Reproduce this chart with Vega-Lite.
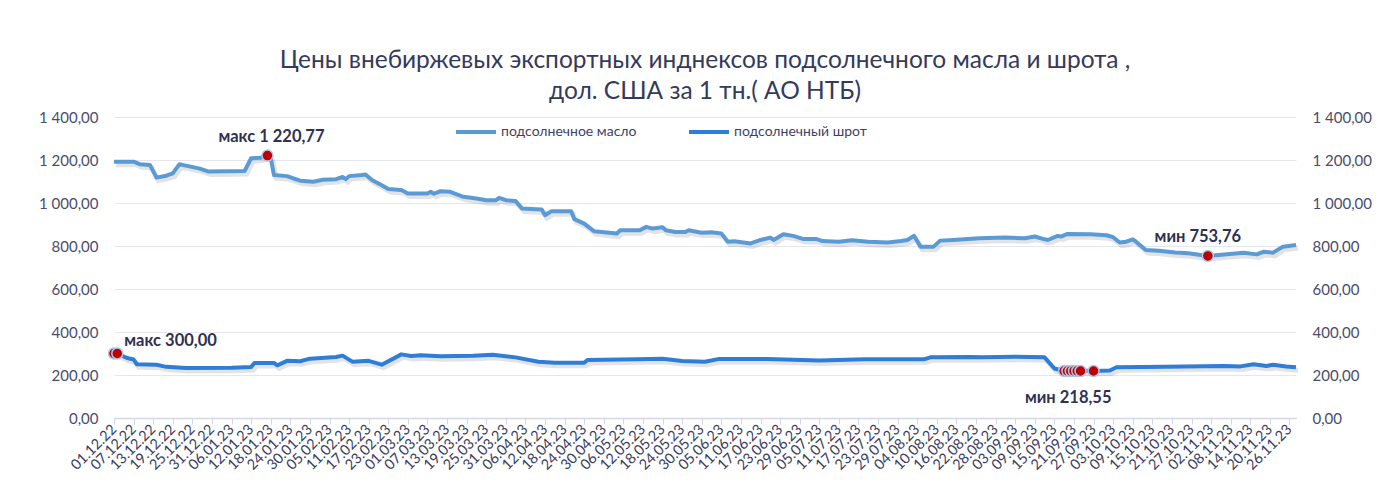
{
  "$schema": "https://vega.github.io/schema/vega-lite/v6.json",
  "width": 1182,
  "height": 301,
  "autosize": "none",
  "padding": {"left": 114, "top": 117, "right": 104, "bottom": 82},
  "background": "white",
  "config": {
    "locale": {"number": {"decimal": ",", "thousands": " ", "grouping": [3], "currency": ["", ""]}},
    "font": "Lato",
    "view": {"stroke": null},
    "axisX": {"labelOverlap": false, "labelBound": false}
  },
  "title": {
    "text": ["Цены внебиржевых экспортных инднексов подсолнечного масла и шрота ,", "дол. США за 1 тн.( АО НТБ)"],
    "fontSize": 24.5,
    "font": "Lato",
    "fontWeight": "normal",
    "color": "#343a5c",
    "anchor": "middle",
    "offset": 6,
    "lineHeight": 31
  },
  "datasets": {
    "prices": [
      {"date": "2022-12-01", "series": "подсолнечное масло", "value": 1192},
      {"date": "2022-12-07", "series": "подсолнечное масло", "value": 1192},
      {"date": "2022-12-09", "series": "подсолнечное масло", "value": 1180},
      {"date": "2022-12-12", "series": "подсолнечное масло", "value": 1177},
      {"date": "2022-12-14", "series": "подсолнечное масло", "value": 1118},
      {"date": "2022-12-17", "series": "подсолнечное масло", "value": 1127},
      {"date": "2022-12-19", "series": "подсолнечное масло", "value": 1138},
      {"date": "2022-12-21", "series": "подсолнечное масло", "value": 1180},
      {"date": "2022-12-23", "series": "подсолнечное масло", "value": 1174},
      {"date": "2022-12-27", "series": "подсолнечное масло", "value": 1161},
      {"date": "2022-12-30", "series": "подсолнечное масло", "value": 1146},
      {"date": "2023-01-10", "series": "подсолнечное масло", "value": 1149},
      {"date": "2023-01-12", "series": "подсолнечное масло", "value": 1208},
      {"date": "2023-01-15", "series": "подсолнечное масло", "value": 1211},
      {"date": "2023-01-17", "series": "подсолнечное масло", "value": 1220.77},
      {"date": "2023-01-18", "series": "подсолнечное масло", "value": 1210},
      {"date": "2023-01-19", "series": "подсолнечное масло", "value": 1130},
      {"date": "2023-01-23", "series": "подсолнечное масло", "value": 1125},
      {"date": "2023-01-25", "series": "подсолнечное масло", "value": 1114},
      {"date": "2023-01-27", "series": "подсолнечное масло", "value": 1104},
      {"date": "2023-01-31", "series": "подсолнечное масло", "value": 1099},
      {"date": "2023-02-03", "series": "подсолнечное масло", "value": 1108},
      {"date": "2023-02-07", "series": "подсолнечное масло", "value": 1111},
      {"date": "2023-02-09", "series": "подсолнечное масло", "value": 1121},
      {"date": "2023-02-10", "series": "подсолнечное масло", "value": 1111},
      {"date": "2023-02-11", "series": "подсолнечное масло", "value": 1125},
      {"date": "2023-02-15", "series": "подсолнечное масло", "value": 1130},
      {"date": "2023-02-16", "series": "подсолнечное масло", "value": 1133},
      {"date": "2023-02-18", "series": "подсолнечное масло", "value": 1107},
      {"date": "2023-02-21", "series": "подсолнечное масло", "value": 1083},
      {"date": "2023-02-23", "series": "подсолнечное масло", "value": 1065},
      {"date": "2023-02-27", "series": "подсолнечное масло", "value": 1060},
      {"date": "2023-03-01", "series": "подсолнечное масло", "value": 1044},
      {"date": "2023-03-07", "series": "подсолнечное масло", "value": 1044},
      {"date": "2023-03-08", "series": "подсолнечное масло", "value": 1052},
      {"date": "2023-03-09", "series": "подсолнечное масло", "value": 1043},
      {"date": "2023-03-11", "series": "подсолнечное масло", "value": 1055},
      {"date": "2023-03-14", "series": "подсолнечное масло", "value": 1052},
      {"date": "2023-03-16", "series": "подсолнечное масло", "value": 1040},
      {"date": "2023-03-18", "series": "подсолнечное масло", "value": 1029},
      {"date": "2023-03-22", "series": "подсолнечное масло", "value": 1021},
      {"date": "2023-03-25", "series": "подсолнечное масло", "value": 1013},
      {"date": "2023-03-28", "series": "подсолнечное масло", "value": 1013},
      {"date": "2023-03-29", "series": "подсолнечное масло", "value": 1024},
      {"date": "2023-03-31", "series": "подсолнечное масло", "value": 1013},
      {"date": "2023-04-03", "series": "подсолнечное масло", "value": 1009},
      {"date": "2023-04-05", "series": "подсолнечное масло", "value": 974},
      {"date": "2023-04-11", "series": "подсолнечное масло", "value": 970},
      {"date": "2023-04-12", "series": "подсолнечное масло", "value": 943},
      {"date": "2023-04-14", "series": "подсолнечное масло", "value": 962},
      {"date": "2023-04-20", "series": "подсолнечное масло", "value": 962},
      {"date": "2023-04-21", "series": "подсолнечное масло", "value": 925},
      {"date": "2023-04-24", "series": "подсолнечное масло", "value": 904},
      {"date": "2023-04-27", "series": "подсолнечное масло", "value": 869},
      {"date": "2023-05-04", "series": "подсолнечное масло", "value": 858},
      {"date": "2023-05-05", "series": "подсолнечное масло", "value": 873},
      {"date": "2023-05-11", "series": "подсолнечное масло", "value": 873},
      {"date": "2023-05-13", "series": "подсолнечное масло", "value": 889},
      {"date": "2023-05-15", "series": "подсолнечное масло", "value": 881},
      {"date": "2023-05-18", "series": "подсолнечное масло", "value": 887},
      {"date": "2023-05-19", "series": "подсолнечное масло", "value": 873},
      {"date": "2023-05-22", "series": "подсолнечное масло", "value": 865},
      {"date": "2023-05-25", "series": "подсолнечное масло", "value": 865},
      {"date": "2023-05-26", "series": "подсолнечное масло", "value": 873},
      {"date": "2023-05-30", "series": "подсолнечное масло", "value": 862},
      {"date": "2023-06-02", "series": "подсолнечное масло", "value": 864},
      {"date": "2023-06-05", "series": "подсолнечное масло", "value": 858},
      {"date": "2023-06-07", "series": "подсолнечное масло", "value": 820},
      {"date": "2023-06-09", "series": "подсолнечное масло", "value": 822},
      {"date": "2023-06-14", "series": "подсолнечное масло", "value": 812},
      {"date": "2023-06-17", "series": "подсолнечное масло", "value": 828},
      {"date": "2023-06-20", "series": "подсолнечное масло", "value": 839},
      {"date": "2023-06-21", "series": "подсолнечное масло", "value": 828},
      {"date": "2023-06-24", "series": "подсолнечное масло", "value": 855},
      {"date": "2023-06-27", "series": "подсолнечное масло", "value": 847},
      {"date": "2023-06-30", "series": "подсолнечное масло", "value": 833},
      {"date": "2023-07-04", "series": "подсолнечное масло", "value": 833},
      {"date": "2023-07-06", "series": "подсолнечное масло", "value": 823},
      {"date": "2023-07-11", "series": "подсолнечное масло", "value": 820},
      {"date": "2023-07-15", "series": "подсолнечное масло", "value": 827},
      {"date": "2023-07-20", "series": "подсолнечное масло", "value": 820},
      {"date": "2023-07-26", "series": "подсолнечное масло", "value": 816},
      {"date": "2023-07-30", "series": "подсолнечное масло", "value": 823},
      {"date": "2023-08-01", "series": "подсолнечное масло", "value": 828},
      {"date": "2023-08-03", "series": "подсолнечное масло", "value": 847},
      {"date": "2023-08-05", "series": "подсолнечное масло", "value": 797},
      {"date": "2023-08-09", "series": "подсолнечное масло", "value": 797},
      {"date": "2023-08-11", "series": "подсолнечное масло", "value": 825},
      {"date": "2023-08-15", "series": "подсолнечное масло", "value": 828},
      {"date": "2023-08-23", "series": "подсолнечное масло", "value": 836},
      {"date": "2023-08-31", "series": "подсолнечное масло", "value": 839},
      {"date": "2023-09-06", "series": "подсолнечное масло", "value": 836},
      {"date": "2023-09-09", "series": "подсолнечное масло", "value": 844},
      {"date": "2023-09-12", "series": "подсолнечное масло", "value": 831},
      {"date": "2023-09-13", "series": "подсолнечное масло", "value": 828},
      {"date": "2023-09-16", "series": "подсолнечное масло", "value": 847},
      {"date": "2023-09-17", "series": "подсолнечное масло", "value": 844},
      {"date": "2023-09-19", "series": "подсолнечное масло", "value": 856},
      {"date": "2023-09-26", "series": "подсолнечное масло", "value": 855},
      {"date": "2023-10-01", "series": "подсолнечное масло", "value": 850},
      {"date": "2023-10-03", "series": "подсолнечное масло", "value": 841},
      {"date": "2023-10-05", "series": "подсолнечное масло", "value": 816},
      {"date": "2023-10-07", "series": "подсолнечное масло", "value": 820},
      {"date": "2023-10-09", "series": "подсолнечное масло", "value": 831},
      {"date": "2023-10-10", "series": "подсолнечное масло", "value": 820},
      {"date": "2023-10-13", "series": "подсолнечное масло", "value": 781},
      {"date": "2023-10-17", "series": "подсолнечное масло", "value": 778},
      {"date": "2023-10-22", "series": "подсолнечное масло", "value": 770},
      {"date": "2023-10-26", "series": "подсолнечное масло", "value": 766},
      {"date": "2023-11-01", "series": "подсолнечное масло", "value": 753.76},
      {"date": "2023-11-06", "series": "подсолнечное масло", "value": 761},
      {"date": "2023-11-12", "series": "подсолнечное масло", "value": 769},
      {"date": "2023-11-16", "series": "подсолнечное масло", "value": 761},
      {"date": "2023-11-18", "series": "подсолнечное масло", "value": 773},
      {"date": "2023-11-21", "series": "подсолнечное масло", "value": 769},
      {"date": "2023-11-24", "series": "подсолнечное масло", "value": 797},
      {"date": "2023-11-28", "series": "подсолнечное масло", "value": 805},
      {"date": "2022-12-01", "series": "подсолнечный шрот", "value": 300},
      {"date": "2022-12-02", "series": "подсолнечный шрот", "value": 300},
      {"date": "2022-12-05", "series": "подсолнечный шрот", "value": 279},
      {"date": "2022-12-07", "series": "подсолнечный шрот", "value": 272},
      {"date": "2022-12-08", "series": "подсолнечный шрот", "value": 250},
      {"date": "2022-12-14", "series": "подсолнечный шрот", "value": 248},
      {"date": "2022-12-17", "series": "подсолнечный шрот", "value": 238},
      {"date": "2022-12-23", "series": "подсолнечный шрот", "value": 232},
      {"date": "2023-01-06", "series": "подсолнечный шрот", "value": 234},
      {"date": "2023-01-12", "series": "подсолнечный шрот", "value": 237},
      {"date": "2023-01-13", "series": "подсолнечный шрот", "value": 256},
      {"date": "2023-01-19", "series": "подсолнечный шрот", "value": 256},
      {"date": "2023-01-20", "series": "подсолнечный шрот", "value": 245},
      {"date": "2023-01-23", "series": "подсолнечный шрот", "value": 266},
      {"date": "2023-01-27", "series": "подсолнечный шрот", "value": 264},
      {"date": "2023-01-30", "series": "подсолнечный шрот", "value": 276},
      {"date": "2023-02-07", "series": "подсолнечный шрот", "value": 284},
      {"date": "2023-02-09", "series": "подсолнечный шрот", "value": 290},
      {"date": "2023-02-12", "series": "подсолнечный шрот", "value": 262},
      {"date": "2023-02-17", "series": "подсолнечный шрот", "value": 266},
      {"date": "2023-02-21", "series": "подсолнечный шрот", "value": 248},
      {"date": "2023-02-27", "series": "подсолнечный шрот", "value": 296},
      {"date": "2023-03-02", "series": "подсолнечный шрот", "value": 288},
      {"date": "2023-03-05", "series": "подсолнечный шрот", "value": 292},
      {"date": "2023-03-11", "series": "подсолнечный шрот", "value": 287},
      {"date": "2023-03-21", "series": "подсолнечный шрот", "value": 289},
      {"date": "2023-03-27", "series": "подсолнечный шрот", "value": 294},
      {"date": "2023-04-03", "series": "подсолнечный шрот", "value": 282},
      {"date": "2023-04-10", "series": "подсолнечный шрот", "value": 262},
      {"date": "2023-04-15", "series": "подсолнечный шрот", "value": 257},
      {"date": "2023-04-24", "series": "подсолнечный шрот", "value": 257},
      {"date": "2023-04-25", "series": "подсолнечный шрот", "value": 270},
      {"date": "2023-05-10", "series": "подсолнечный шрот", "value": 273},
      {"date": "2023-05-18", "series": "подсолнечный шрот", "value": 276},
      {"date": "2023-05-24", "series": "подсолнечный шрот", "value": 265},
      {"date": "2023-05-31", "series": "подсолнечный шрот", "value": 262},
      {"date": "2023-06-04", "series": "подсолнечный шрот", "value": 274},
      {"date": "2023-06-19", "series": "подсолнечный шрот", "value": 274},
      {"date": "2023-07-05", "series": "подсолнечный шрот", "value": 268},
      {"date": "2023-07-19", "series": "подсолнечный шрот", "value": 273},
      {"date": "2023-08-06", "series": "подсолнечный шрот", "value": 273},
      {"date": "2023-08-08", "series": "подсолнечный шрот", "value": 282},
      {"date": "2023-08-20", "series": "подсолнечный шрот", "value": 284},
      {"date": "2023-08-24", "series": "подсолнечный шрот", "value": 282},
      {"date": "2023-09-03", "series": "подсолнечный шрот", "value": 285},
      {"date": "2023-09-12", "series": "подсолнечный шрот", "value": 282},
      {"date": "2023-09-15", "series": "подсолнечный шрот", "value": 230},
      {"date": "2023-09-18", "series": "подсолнечный шрот", "value": 218.55},
      {"date": "2023-09-19", "series": "подсолнечный шрот", "value": 218.55},
      {"date": "2023-09-20", "series": "подсолнечный шрот", "value": 218.55},
      {"date": "2023-09-21", "series": "подсолнечный шрот", "value": 218.55},
      {"date": "2023-09-22", "series": "подсолнечный шрот", "value": 218.55},
      {"date": "2023-09-23", "series": "подсолнечный шрот", "value": 218.55},
      {"date": "2023-09-24", "series": "подсолнечный шрот", "value": 219.5},
      {"date": "2023-09-26", "series": "подсолнечный шрот", "value": 219.5},
      {"date": "2023-09-27", "series": "подсолнечный шрот", "value": 218.55},
      {"date": "2023-10-02", "series": "подсолнечный шрот", "value": 221},
      {"date": "2023-10-04", "series": "подсолнечный шрот", "value": 236},
      {"date": "2023-10-19", "series": "подсолнечный шрот", "value": 238},
      {"date": "2023-11-06", "series": "подсолнечный шрот", "value": 242},
      {"date": "2023-11-11", "series": "подсолнечный шрот", "value": 240},
      {"date": "2023-11-15", "series": "подсолнечный шрот", "value": 250},
      {"date": "2023-11-19", "series": "подсолнечный шрот", "value": 242},
      {"date": "2023-11-21", "series": "подсолнечный шрот", "value": 248},
      {"date": "2023-11-25", "series": "подсолнечный шрот", "value": 240},
      {"date": "2023-11-28", "series": "подсолнечный шрот", "value": 236}
    ],
    "notes": [
      {"date": "2023-01-17", "value": 1220.77, "label": "макс 1 220,77"},
      {"date": "2023-11-01", "value": 753.76, "label": "мин 753,76"},
      {"date": "2022-12-02", "value": 300, "label": "макс 300,00"},
      {"date": "2023-09-18", "value": 218.55, "label": "мин 218,55"}
    ]
  },
  "encoding": {
    "x": {
      "field": "date", "type": "temporal",
      "scale": {"type": "utc", "domain": [{"year": 2022, "month": 12, "date": 1, "utc": true}, {"year": 2023, "month": 11, "date": 28, "utc": true}]},
      "axis": {
        "title": null,
        "format": "%d.%m.%y",
        "values": [
          {"year": 2022, "month": 12, "date": 1, "utc": true}, {"year": 2022, "month": 12, "date": 7, "utc": true}, {"year": 2022, "month": 12, "date": 13, "utc": true}, {"year": 2022, "month": 12, "date": 19, "utc": true}, {"year": 2022, "month": 12, "date": 25, "utc": true}, {"year": 2022, "month": 12, "date": 31, "utc": true},
          {"year": 2023, "month": 1, "date": 6, "utc": true}, {"year": 2023, "month": 1, "date": 12, "utc": true}, {"year": 2023, "month": 1, "date": 18, "utc": true}, {"year": 2023, "month": 1, "date": 24, "utc": true}, {"year": 2023, "month": 1, "date": 30, "utc": true},
          {"year": 2023, "month": 2, "date": 5, "utc": true}, {"year": 2023, "month": 2, "date": 11, "utc": true}, {"year": 2023, "month": 2, "date": 17, "utc": true}, {"year": 2023, "month": 2, "date": 23, "utc": true},
          {"year": 2023, "month": 3, "date": 1, "utc": true}, {"year": 2023, "month": 3, "date": 7, "utc": true}, {"year": 2023, "month": 3, "date": 13, "utc": true}, {"year": 2023, "month": 3, "date": 19, "utc": true}, {"year": 2023, "month": 3, "date": 25, "utc": true}, {"year": 2023, "month": 3, "date": 31, "utc": true},
          {"year": 2023, "month": 4, "date": 6, "utc": true}, {"year": 2023, "month": 4, "date": 12, "utc": true}, {"year": 2023, "month": 4, "date": 18, "utc": true}, {"year": 2023, "month": 4, "date": 24, "utc": true}, {"year": 2023, "month": 4, "date": 30, "utc": true},
          {"year": 2023, "month": 5, "date": 6, "utc": true}, {"year": 2023, "month": 5, "date": 12, "utc": true}, {"year": 2023, "month": 5, "date": 18, "utc": true}, {"year": 2023, "month": 5, "date": 24, "utc": true}, {"year": 2023, "month": 5, "date": 30, "utc": true},
          {"year": 2023, "month": 6, "date": 5, "utc": true}, {"year": 2023, "month": 6, "date": 11, "utc": true}, {"year": 2023, "month": 6, "date": 17, "utc": true}, {"year": 2023, "month": 6, "date": 23, "utc": true}, {"year": 2023, "month": 6, "date": 29, "utc": true},
          {"year": 2023, "month": 7, "date": 5, "utc": true}, {"year": 2023, "month": 7, "date": 11, "utc": true}, {"year": 2023, "month": 7, "date": 17, "utc": true}, {"year": 2023, "month": 7, "date": 23, "utc": true}, {"year": 2023, "month": 7, "date": 29, "utc": true},
          {"year": 2023, "month": 8, "date": 4, "utc": true}, {"year": 2023, "month": 8, "date": 10, "utc": true}, {"year": 2023, "month": 8, "date": 16, "utc": true}, {"year": 2023, "month": 8, "date": 22, "utc": true}, {"year": 2023, "month": 8, "date": 28, "utc": true},
          {"year": 2023, "month": 9, "date": 3, "utc": true}, {"year": 2023, "month": 9, "date": 9, "utc": true}, {"year": 2023, "month": 9, "date": 15, "utc": true}, {"year": 2023, "month": 9, "date": 21, "utc": true}, {"year": 2023, "month": 9, "date": 27, "utc": true},
          {"year": 2023, "month": 10, "date": 3, "utc": true}, {"year": 2023, "month": 10, "date": 9, "utc": true}, {"year": 2023, "month": 10, "date": 15, "utc": true}, {"year": 2023, "month": 10, "date": 21, "utc": true}, {"year": 2023, "month": 10, "date": 27, "utc": true},
          {"year": 2023, "month": 11, "date": 2, "utc": true}, {"year": 2023, "month": 11, "date": 8, "utc": true}, {"year": 2023, "month": 11, "date": 14, "utc": true}, {"year": 2023, "month": 11, "date": 20, "utc": true}, {"year": 2023, "month": 11, "date": 26, "utc": true}
        ],
        "labelAngle": -45,
        "labelAlign": "right",
        "labelBaseline": "middle",
        "labelFontSize": 14.5,
        "labelColor": "#3a3c60",
        "labelOverlap": false,
        "labelSeparation": -60,
        "labelPadding": 3,
        "labelFlush": false,
        "labelBound": false,
        "tickColor": "#d5d5ea",
        "tickSize": 6,
        "domainColor": "#d5d5ea",
        "domainWidth": 1.5,
        "grid": false
      }
    }
  },
  "layer": [
    {
      "data": {"name": "prices"},
      "mark": {"type": "line", "strokeWidth": 5, "color": "#1f2a44", "opacity": 0.13, "xOffset": 2, "yOffset": 3},
      "encoding": {
        "y": {"field": "value", "type": "quantitative", "scale": {"domain": [0, 1400], "nice": false}, "axis": null},
        "detail": {"field": "series"}
      }
    },
    {
      "data": {"name": "prices"},
      "mark": {"type": "line", "strokeWidth": 4, "strokeJoin": "round"},
      "encoding": {
        "y": {
          "field": "value", "type": "quantitative",
          "scale": {"domain": [0, 1400], "nice": false},
          "axis": {
            "title": null, "orient": "left", "values": [0, 200, 400, 600, 800, 1000, 1200, 1400],
            "format": ",.2f", "grid": true, "gridColor": "#e6e6f3", "ticks": false, "domain": false,
            "labelPadding": 16, "labelFontSize": 15, "labelColor": "#4a4c6a"
          }
        },
        "color": {
          "field": "series", "type": "nominal",
          "scale": {"domain": ["подсолнечное масло", "подсолнечный шрот"], "range": ["#5B9BD5", "#2E7DD6"]},
          "legend": {
            "title": null, "orient": "none", "legendX": 340, "legendY": -7, "direction": "horizontal",
            "symbolType": "stroke", "symbolSize": 1600, "symbolStrokeWidth": 4,
            "labelFontSize": 14, "labelColor": "#3f4163", "labelOffset": 3, "columnPadding": 44
          }
        }
      }
    },
    {
      "data": {"name": "prices"},
      "mark": {"type": "line", "opacity": 0},
      "encoding": {
        "y": {
          "field": "value", "type": "quantitative",
          "scale": {"domain": [0, 1400], "nice": false},
          "axis": {
            "title": null, "orient": "right", "values": [0, 200, 400, 600, 800, 1000, 1200, 1400],
            "format": ",.2f", "grid": false, "ticks": false, "domain": false,
            "labelPadding": 16, "labelFontSize": 15, "labelColor": "#4a4c6a"
          }
        },
        "detail": {"field": "series"}
      }
    },
    {
      "data": {"name": "prices"},
      "transform": [
        {"joinaggregate": [{"op": "max", "field": "value", "as": "vmax"}, {"op": "min", "field": "value", "as": "vmin"}], "groupby": ["series"]},
        {"filter": "datum.value == datum.vmax || datum.value == datum.vmin"}
      ],
      "mark": {"type": "point", "filled": true, "size": 120, "color": "#C00000", "stroke": "#A9C8EA", "strokeWidth": 1.5, "opacity": 1},
      "encoding": {
        "y": {"field": "value", "type": "quantitative", "scale": {"domain": [0, 1400], "nice": false}, "axis": null}
      }
    },
    {
      "data": {"name": "notes"},
      "transform": [{"filter": "datum.label == 'макс 1 220,77'"}],
      "mark": {"type": "text", "font": "Lato", "fontWeight": "bold", "fontSize": 16.5, "color": "#2f3150", "align": "center", "baseline": "alphabetic", "dx": 4, "dy": -14},
      "encoding": {
        "y": {"field": "value", "type": "quantitative", "scale": {"domain": [0, 1400], "nice": false}, "axis": null},
        "text": {"field": "label"}
      }
    },
    {
      "data": {"name": "notes"},
      "transform": [{"filter": "datum.label == 'мин 753,76'"}],
      "mark": {"type": "text", "font": "Lato", "fontWeight": "bold", "fontSize": 16.5, "color": "#2f3150", "align": "center", "baseline": "alphabetic", "dx": -10, "dy": -14},
      "encoding": {
        "y": {"field": "value", "type": "quantitative", "scale": {"domain": [0, 1400], "nice": false}, "axis": null},
        "text": {"field": "label"}
      }
    },
    {
      "data": {"name": "notes"},
      "transform": [{"filter": "datum.label == 'макс 300,00'"}],
      "mark": {"type": "text", "font": "Lato", "fontWeight": "bold", "fontSize": 16.5, "color": "#2f3150", "align": "left", "baseline": "alphabetic", "dx": 7, "dy": -8},
      "encoding": {
        "y": {"field": "value", "type": "quantitative", "scale": {"domain": [0, 1400], "nice": false}, "axis": null},
        "text": {"field": "label"}
      }
    },
    {
      "data": {"name": "notes"},
      "transform": [{"filter": "datum.label == 'мин 218,55'"}],
      "mark": {"type": "text", "font": "Lato", "fontWeight": "bold", "fontSize": 16.5, "color": "#2f3150", "align": "center", "baseline": "alphabetic", "dx": 4, "dy": 32},
      "encoding": {
        "y": {"field": "value", "type": "quantitative", "scale": {"domain": [0, 1400], "nice": false}, "axis": null},
        "text": {"field": "label"}
      }
    }
  ],
  "resolve": {"scale": {"y": "independent"}}
}
